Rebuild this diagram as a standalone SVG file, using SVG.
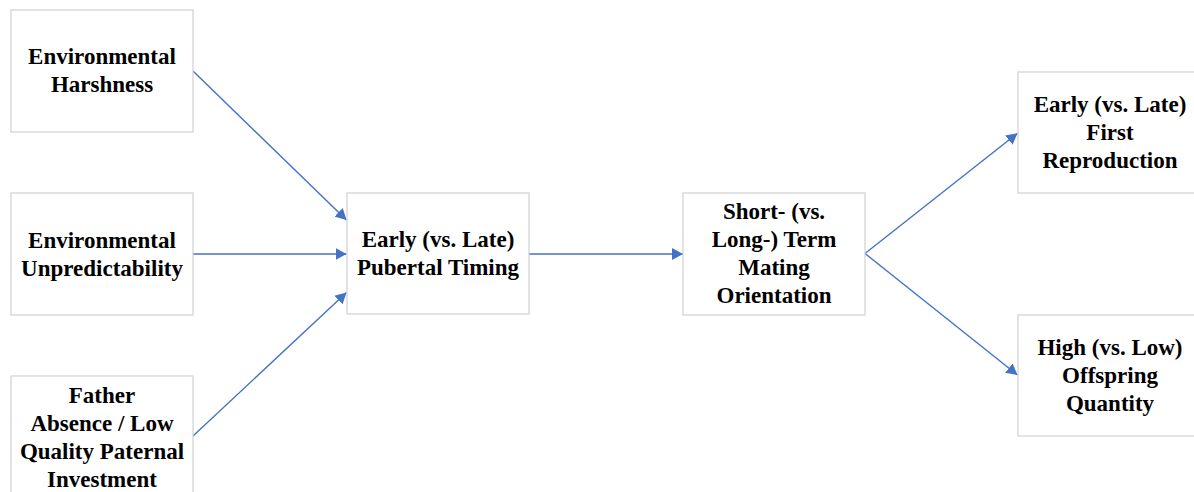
<svg xmlns="http://www.w3.org/2000/svg" width="1194" height="492" viewBox="0 0 1194 492">
<style>
.box{fill:#fff;stroke:#d0d0d0;stroke-width:1.2}
.t{font-family:"Liberation Serif","Times New Roman",serif;font-weight:bold;font-size:23px;fill:#000;text-anchor:middle}
.c{stroke:#4472c4;stroke-width:1.4;fill:none;marker-end:url(#ah)}
</style>
<defs>
<marker id="ah" viewBox="0 0 11 12" refX="11" refY="6" markerWidth="11" markerHeight="12" markerUnits="userSpaceOnUse" orient="auto">
<path d="M0,0 L11,6 L0,12 z" fill="#4472c4"/>
</marker>
</defs>
<rect width="1194" height="492" fill="#fff"/>
<g id="connectors">
<line class="c" x1="193" y1="71" x2="346.5" y2="220"/>
<line class="c" x1="193" y1="254" x2="346.5" y2="254"/>
<line class="c" x1="193" y1="436" x2="346.5" y2="292.5"/>
<line class="c" x1="529" y1="254" x2="683" y2="254"/>
<line class="c" x1="865" y1="253.5" x2="1017.5" y2="133.3"/>
<line class="c" x1="865" y1="253.5" x2="1017.5" y2="375"/>
</g>
<g id="harshness">
<rect class="box" x="11" y="10" width="182" height="122"/>
<text class="t" x="102" y="64">Environmental</text>
<text class="t" x="102" y="92">Harshness</text>
</g>
<g id="unpredictability">
<rect class="box" x="11" y="193" width="182" height="122"/>
<text class="t" x="102" y="248">Environmental</text>
<text class="t" x="102" y="276">Unpredictability</text>
</g>
<g id="father">
<rect class="box" x="11" y="376" width="182" height="122"/>
<text class="t" x="102" y="403">Father</text>
<text class="t" x="102" y="431">Absence / Low</text>
<text class="t" x="102" y="459">Quality Paternal</text>
<text class="t" x="102" y="487">Investment</text>
</g>
<g id="pubertal">
<rect class="box" x="347" y="193" width="182" height="121"/>
<text class="t" x="438" y="247">Early (vs. Late)</text>
<text class="t" x="438" y="275">Pubertal Timing</text>
</g>
<g id="mating">
<rect class="box" x="683" y="193" width="182" height="122"/>
<text class="t" x="774" y="219">Short- (vs.</text>
<text class="t" x="774" y="247">Long-) Term</text>
<text class="t" x="774" y="275">Mating</text>
<text class="t" x="774" y="303">Orientation</text>
</g>
<g id="first-reproduction">
<rect class="box" x="1018" y="72" width="184" height="121"/>
<text class="t" x="1110" y="112">Early (vs. Late)</text>
<text class="t" x="1110" y="140">First</text>
<text class="t" x="1110" y="168">Reproduction</text>
</g>
<g id="offspring">
<rect class="box" x="1018" y="315" width="184" height="121"/>
<text class="t" x="1110" y="355">High (vs. Low)</text>
<text class="t" x="1110" y="383">Offspring</text>
<text class="t" x="1110" y="411">Quantity</text>
</g>
</svg>
